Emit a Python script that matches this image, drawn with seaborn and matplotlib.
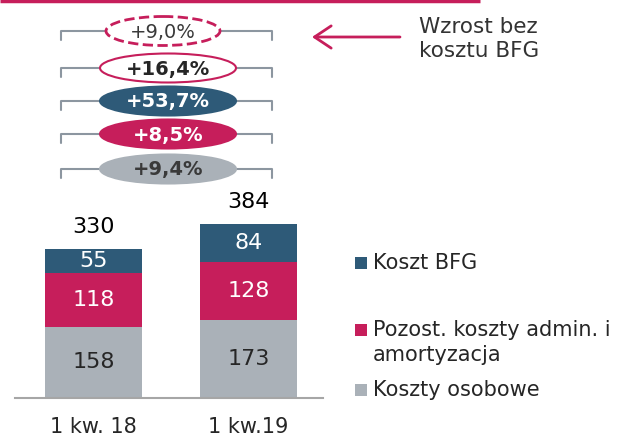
import matplotlib.pyplot as plt
import seaborn as sns
from matplotlib.patches import Ellipse, Rectangle

# data (mln zł)
quarters = ["1 kw. 18", "1 kw.19"]
personal = [158, 173]
admin = [118, 128]
bfg = [55, 84]
totals = [330, 384]
series_names = ["Koszt BFG", "Pozost. koszty admin. i\namortyzacja", "Koszty osobowe"]
growth = ["+9,0%", "+16,4%", "+53,7%", "+8,5%", "+9,4%"]
note = "Wzrost bez\nkosztu BFG"

BLUE = "#2E5A78"
CRIMSON = "#C61E5B"
GREY = "#AAB1B8"
DARK = "#262626"

sns.set_theme(style="white")
plt.rcParams['font.family'] = ['DejaVu Sans']

fig = plt.figure(figsize=(6.29, 4.4), dpi=100)

# --- stacked bars (layered cumulative totals) ---
ax = fig.add_axes([15 / 629, 42 / 440, 308 / 629, 181 / 440])
pers_admin = [p + a for p, a in zip(personal, admin)]
sns.barplot(x=quarters, y=totals, color=BLUE, saturation=1, width=0.626, linewidth=0, ax=ax)
sns.barplot(x=quarters, y=pers_admin, color=CRIMSON, saturation=1, width=0.626, linewidth=0, ax=ax)
sns.barplot(x=quarters, y=personal, color=GREY, saturation=1, width=0.626, linewidth=0, ax=ax)
ax.set_xlim(-0.506, 1.48)
ax.set_ylim(0, 400)
ax.set_yticks([])
ax.set_ylabel("")
for s in ["top", "left", "right"]:
    ax.spines[s].set_visible(False)
ax.spines["bottom"].set_color("#A6A6A6")
ax.spines["bottom"].set_linewidth(1.5)
ax.tick_params(axis="x", length=0, pad=14, labelsize=15, labelcolor=DARK)

for i in range(len(quarters)):
    ax.text(i, personal[i] / 2, str(personal[i]), ha="center", va="center", fontsize=16, color=DARK)
    ax.text(i, personal[i] + admin[i] / 2, str(admin[i]), ha="center", va="center", fontsize=16, color="white")
    ax.text(i, pers_admin[i] + bfg[i] / 2, str(bfg[i]), ha="center", va="center", fontsize=16, color="white")
    ax.text(i, totals[i] + 26, str(totals[i]), ha="center", va="bottom", fontsize=16, color="black", clip_on=False)

# --- overlay in pixel coordinates ---
ov = fig.add_axes([0, 0, 1, 1])
ov.set_xlim(0, 629)
ov.set_ylim(440, 0)
ov.axis("off")

ov.plot([0, 480], [1, 1], color=CRIMSON, lw=2.5, solid_capstyle="butt")

rows = [31, 68, 101, 134, 169]
centers = [163, 168, 168, 168, 168]
fills = ["white", "white", BLUE, CRIMSON, GREY]
edges = [CRIMSON, CRIMSON, BLUE, CRIMSON, GREY]
text_cols = ["#3A3A3A", DARK, "white", "white", "#3A3A3A"]
weights = ["normal", "bold", "bold", "bold", "bold"]
for k, (y, lab) in enumerate(zip(rows, growth)):
    ov.plot([61, 61, 272, 272], [y + 9, y, y, y + 9], color="#8C96A0", lw=1.5, zorder=1)
    w = 114 if k == 0 else 136
    e = Ellipse((centers[k], y), w, 29, facecolor=fills[k], edgecolor=edges[k],
                lw=2 if k == 0 else 1.5, ls="--" if k == 0 else "-", zorder=2)
    ov.add_patch(e)
    ov.text(centers[k], y + 1, lab, ha="center", va="center", fontsize=14,
            fontweight=weights[k], color=text_cols[k], zorder=3)

ov.annotate("", xy=(312, 37), xytext=(400, 37),
            arrowprops=dict(arrowstyle="->,head_length=0.6,head_width=0.4",
                            color=CRIMSON, lw=2, mutation_scale=20, shrinkA=0, shrinkB=0))
ov.text(419, 39, note, ha="left", va="center", fontsize=15.5, color="#333333", linespacing=1.3)

# --- legend drawn by hand ---
leg_cols = [BLUE, CRIMSON, GREY]
leg_y = [263, 330, 390]
for c, y, name in zip(leg_cols, leg_y, series_names):
    ov.add_patch(Rectangle((355, y - 6), 12, 12, facecolor=c, edgecolor="none"))
    ov.text(373, y - 10, name, ha="left", va="top", fontsize=15, color=DARK, linespacing=1.3)

fig.savefig("out.png", dpi=100)
